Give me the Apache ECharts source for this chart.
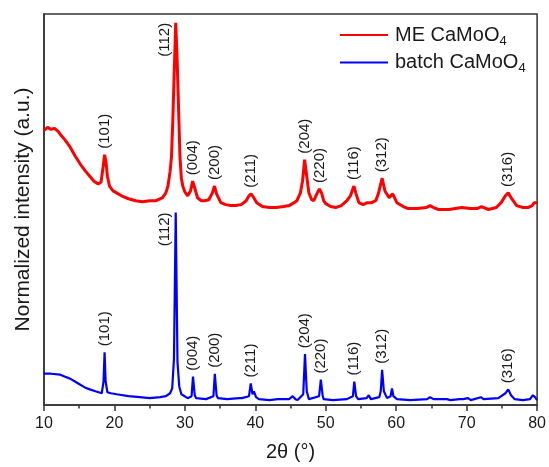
<!DOCTYPE html>
<html>
<head>
<meta charset="utf-8">
<script src="https://cdn.jsdelivr.net/npm/echarts@6/dist/echarts.min.js"></script>
<style>
  html, body { margin: 0; padding: 0; background: #fff; }
  #chart { width: 549px; height: 467px; }
</style>
</head>
<body>
<div id="chart"></div>
<script>
  // ME CaMoO4 (red)
  const meTheta = [10.0, 10.5, 11.0, 11.5, 12.0, 12.3, 13.0, 13.7, 14.4, 15.1, 15.8, 16.5, 17.1, 17.7, 18.1, 18.4, 18.6, 18.8, 19.0, 19.3,
    19.8, 20.3, 21.0, 22.0, 23.0, 24.0, 25.0, 25.9, 26.8, 27.3, 27.6, 27.9, 28.1, 28.3, 28.5, 28.7, 28.9, 29.1, 29.3, 29.5,
    29.7, 30.0, 30.4, 30.8, 31.1, 31.4, 31.8, 32.3, 32.8, 33.4, 33.9, 34.2, 34.5, 35.1, 35.8, 36.5, 37.2, 38.0, 38.7, 39.1,
    39.4, 39.7, 40.2, 41.0, 42.0, 43.0, 44.0, 44.8, 45.5, 45.9, 46.4, 46.7, 47.0, 47.3, 47.6, 48.0, 48.3, 48.8, 49.1, 49.4,
    49.7, 50.0, 50.7, 51.4, 52.2, 53.0, 53.5, 54.0, 54.3, 54.7, 55.3, 55.9, 56.5, 57.1, 57.5, 58.0, 58.4, 59.0, 59.5, 60.1,
    61.0, 61.7, 63.0, 64.3, 64.8, 65.3, 66.0, 67.5, 69.3, 70.5, 71.5, 72.1, 73.1, 74.2, 74.9, 75.5, 75.9, 76.4, 77.1, 78.0,
    78.7, 79.3, 79.6, 80.0];
  const meIntensity = [281, 284, 282, 283, 280, 277, 271, 264, 255, 247, 240, 234, 229, 226, 228, 244, 256, 249, 234, 224,
    219, 217, 214, 211, 209, 208, 209, 209, 212, 217, 224, 239, 254, 294, 344, 391, 354, 304, 254, 232,
    224, 218, 214, 219, 229, 222, 212, 209, 209, 210, 217, 224, 216, 207, 205, 204, 204, 205, 209, 214,
    216, 213, 207, 203, 202, 202, 203, 204, 207, 209, 217, 229, 251, 234, 217, 210, 209, 217, 221, 217,
    209, 206, 203, 202, 204, 209, 214, 224, 216, 207, 205, 207, 207, 209, 217, 232, 219, 212, 216, 207,
    203, 201, 201, 202, 204, 202, 200, 200, 202, 201, 201, 203, 200, 202, 207, 214, 217, 211, 204, 202,
    202, 204, 207, 207];

  // batch CaMoO4 (blue)
  const batchTheta = [10.0, 11.0, 12.3, 13.0, 13.7, 14.4, 15.1, 15.8, 16.5, 17.3, 18.2, 18.45, 18.6, 18.75, 19.0, 19.5, 20.3, 22.0, 23.6, 25.0,
    26.5, 27.3, 27.9, 28.2, 28.45, 28.7, 28.95, 29.2, 29.5, 30.4, 30.95, 31.15, 31.4, 31.6, 33.0, 34.05, 34.25, 34.5, 34.7, 36.0,
    37.7, 37.9, 38.1, 39.1, 39.35, 39.6, 39.8, 40.1, 40.5, 42.0, 43.2, 44.8, 45.3, 45.45, 45.7, 46.0, 46.8, 47.05, 47.3, 47.6,
    49.05, 49.3, 49.55, 49.7, 51.0, 53.0, 53.85, 54.05, 54.3, 54.6, 55.8, 56.1, 56.4, 57.6, 57.8, 58.0, 58.25, 58.7, 59.2, 59.4,
    59.6, 60.1, 62.0, 64.4, 64.8, 65.3, 67.2, 67.4, 67.7, 69.0, 69.2, 69.5, 70.2, 70.6, 72.0, 72.4, 74.5, 75.5, 75.9, 76.3,
    76.8, 78.0, 79.0, 79.4, 79.7, 80.0];
  const batchIntensity = [32, 32, 31, 29, 27, 24, 21, 18, 16, 14, 12, 24, 54, 24, 13, 12, 11, 9, 8, 7,
    8, 9, 12, 17, 47, 197, 44, 19, 11, 7, 9, 29, 10, 7, 6, 9, 32, 10, 7, 6,
    7, 9, 7, 9, 22, 11, 14, 8, 6, 5, 6, 6, 9, 11, 6, 5, 11, 52, 14, 6,
    9, 26, 10, 6, 5, 6, 9, 24, 9, 6, 7, 10, 6, 8, 14, 36, 14, 7, 9, 17,
    9, 6, 5, 6, 8, 6, 6, 7, 5, 6, 8, 6, 7, 5, 8, 6, 7, 12, 16, 10,
    6, 5, 6, 10, 8, 5];

  // Miller index labels
  const peakLabels = ['(101)', '(112)', '(004)', '(200)', '(211)', '(204)', '(220)', '(116)', '(312)', '(316)'];
  const peakTheta = [18.6, 28.7, 31.1, 34.2, 39.4, 47.0, 49.2, 54.0, 58.0, 75.9];

  const FONT = '"Liberation Sans", Arial, Helvetica, sans-serif';
  const TEXT_COLOR = '#1a1a1a';
  const AXIS_COLOR = '#333';

  const zip = (xs, ys) => xs.map((x, i) => [x, ys[i]]);
  const meData = zip(meTheta, meIntensity);
  const batchData = zip(batchTheta, batchIntensity);

  const chart = echarts.init(document.getElementById('chart'), null, { renderer: 'canvas' });

  const option = {
    animation: false,
    backgroundColor: '#fff',
    grid: {
      left: 44, right: 10, top: 14, bottom: 53,
      show: true, borderColor: AXIS_COLOR, borderWidth: 1.5,
    },
    legend: {
      orient: 'vertical',
      left: 335,
      top: 20,
      icon: 'rect',
      itemWidth: 48,
      itemHeight: 2,
      itemGap: 5,
      formatter: (name) => `{n|${name.slice(0, -1)}}{s|${name.slice(-1)}}`,
      textStyle: {
        padding: [0, 0, 0, 2],
        rich: {
          n: { fontSize: 20, fontFamily: FONT, color: TEXT_COLOR, lineHeight: 25 },
          s: { fontSize: 13, fontFamily: FONT, color: TEXT_COLOR, lineHeight: 13, verticalAlign: 'bottom' },
        },
      },
    },
    xAxis: {
      type: 'value',
      min: 10,
      max: 80,
      interval: 10,
      name: '2θ (°)',
      nameLocation: 'middle',
      nameGap: 37,
      nameTextStyle: { fontSize: 20, fontFamily: FONT, color: TEXT_COLOR },
      axisLine: { lineStyle: { color: AXIS_COLOR, width: 1.5 } },
      axisTick: { length: 6, lineStyle: { color: AXIS_COLOR, width: 1.5 } },
      minorTick: { show: true, splitNumber: 2, length: 3.5, lineStyle: { color: AXIS_COLOR, width: 1.5 } },
      axisLabel: { fontSize: 16, fontFamily: FONT, color: TEXT_COLOR, margin: 11 },
      splitLine: { show: false },
    },
    yAxis: {
      type: 'value',
      min: 0,
      max: 400,
      name: 'Normalized intensity (a.u.)',
      nameLocation: 'middle',
      nameGap: 10,
      nameTextStyle: { fontSize: 21, fontFamily: FONT, color: TEXT_COLOR },
      axisLine: { show: true, lineStyle: { color: AXIS_COLOR, width: 1.5 } },
      axisTick: { show: false },
      axisLabel: { show: false },
      splitLine: { show: false },
    },
    series: [
      {
        name: 'ME CaMoO4',
        type: 'line',
        data: meData,
        showSymbol: false,
        symbol: 'none',
        color: '#ff0000',
        lineStyle: { color: '#ff0000', width: 3 },
      },
      {
        name: 'batch CaMoO4',
        type: 'line',
        data: batchData,
        showSymbol: false,
        symbol: 'none',
        color: '#0000ff',
        lineStyle: { color: '#0000ff', width: 2.2 },
      },
    ],
  };

  chart.setOption(option);

  // 峰顶位置 -> 标注 (hkl)
  const findPeak = (data, theta) => {
    let best = null;
    data.forEach((p) => {
      if (Math.abs(p[0] - theta) <= 0.35 && (!best || p[1] > best[1])) best = p;
    });
    return best;
  };

  const labelGraphics = [];
  [meData, batchData].forEach((data) => {
    peakLabels.forEach((txt, i) => {
      const peak = findPeak(data, peakTheta[i]);
      const pt = chart.convertToPixel({ xAxisIndex: 0, yAxisIndex: 0 }, peak);
      const isMain = txt === '(112)';
      labelGraphics.push({
        type: 'text',
        x: isMain ? pt[0] - 11 : pt[0],
        y: isMain ? pt[1] : pt[1] - 6,
        rotation: Math.PI / 2,
        style: {
          text: txt,
          fill: TEXT_COLOR,
          font: `15px ${FONT}`,
          align: isMain ? 'right' : 'left',
          verticalAlign: 'middle',
          textAlign: isMain ? 'right' : 'left',
          textVerticalAlign: 'middle',
        },
        z: 10,
      });
    });
  });

  chart.setOption({ graphic: labelGraphics });
</script>
</body>
</html>
